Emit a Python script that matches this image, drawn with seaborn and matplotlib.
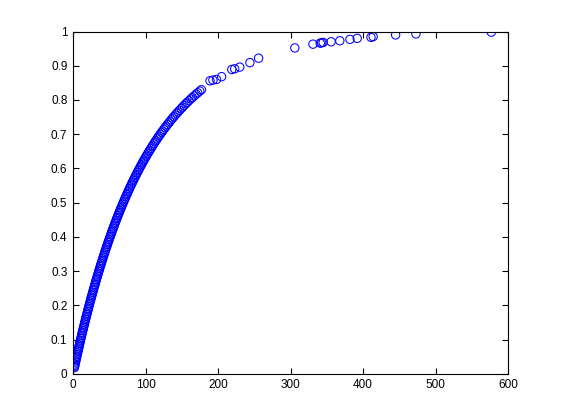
import matplotlib
matplotlib.use("Agg")
import matplotlib.pyplot as plt
import seaborn as sns
import pandas as pd

# values (x, CDF value)
x_vals = [
    1.82, 2.12, 2.53, 2.94, 3.46, 3.87, 4.40, 4.82, 5.24, 5.76, 6.30, 6.83, 7.26, 7.80, 8.23,
    8.78, 9.32, 9.76, 10.32, 10.87, 11.32, 11.88, 12.44, 12.90, 13.47, 14.04, 14.51, 15.08,
    15.66, 16.13, 16.72, 17.32, 17.80, 18.39, 19.00, 19.48, 20.09, 20.70, 21.20, 21.81, 22.44,
    22.94, 23.57, 24.21, 24.72, 25.37, 26.01, 26.53, 27.18, 27.84, 28.37, 29.04, 29.71, 30.25,
    30.93, 31.61, 32.16, 32.85, 33.55, 34.11, 34.82, 35.53, 36.10, 36.82, 37.55, 38.13, 38.87,
    39.61, 40.20, 40.95, 41.70, 42.31, 43.08, 43.86, 44.48, 45.26, 46.04, 46.68, 47.48, 48.29,
    48.94, 49.76, 50.59, 51.25, 52.09, 52.93, 53.62, 54.47, 55.34, 56.03, 56.92, 57.80, 58.52,
    59.42, 60.33, 61.07, 61.99, 62.93, 63.68, 64.63, 65.59, 66.36, 67.33, 68.32, 69.11, 70.12,
    71.13, 71.96, 72.98, 74.03, 74.87, 75.93, 77.00, 77.87, 78.97, 80.07, 80.97, 82.10, 83.25,
    84.17, 85.34, 86.51, 87.47, 88.68, 89.90, 90.89, 92.14, 93.40, 94.42, 95.72, 97.03, 98.10,
    99.43, 100.80, 101.90, 103.29, 104.69, 105.85, 107.31, 108.77, 109.97, 111.48, 113.02,
    114.26, 115.85, 117.45, 118.76, 120.40, 122.10, 123.45, 125.20, 126.95, 128.40, 130.20,
    132.06, 133.57, 135.49, 137.41, 139.04, 141.08, 143.13, 144.84, 146.97, 149.19, 150.97,
    153.27, 155.57, 157.53, 159.96, 162.48, 164.53, 167.15, 169.86, 172.05, 174.92, 177.20,
    189, 193, 198, 205, 219, 223, 230, 244, 256, 306, 331, 341, 343, 345, 356, 368, 382, 392,
    411, 414, 445, 473, 577,
]
y_vals = [
    0.018, 0.021, 0.025, 0.029, 0.034, 0.038, 0.043, 0.047, 0.051, 0.056, 0.061, 0.066, 0.070,
    0.075, 0.079, 0.084, 0.089, 0.093, 0.098, 0.103, 0.107, 0.112, 0.117, 0.121, 0.126, 0.131,
    0.135, 0.140, 0.145, 0.149, 0.154, 0.159, 0.163, 0.168, 0.173, 0.177, 0.182, 0.187, 0.191,
    0.196, 0.201, 0.205, 0.210, 0.215, 0.219, 0.224, 0.229, 0.233, 0.238, 0.243, 0.247, 0.252,
    0.257, 0.261, 0.266, 0.271, 0.275, 0.280, 0.285, 0.289, 0.294, 0.299, 0.303, 0.308, 0.313,
    0.317, 0.322, 0.327, 0.331, 0.336, 0.341, 0.345, 0.350, 0.355, 0.359, 0.364, 0.369, 0.373,
    0.378, 0.383, 0.387, 0.392, 0.397, 0.401, 0.406, 0.411, 0.415, 0.420, 0.425, 0.429, 0.434,
    0.439, 0.443, 0.448, 0.453, 0.457, 0.462, 0.467, 0.471, 0.476, 0.481, 0.485, 0.490, 0.495,
    0.499, 0.504, 0.509, 0.513, 0.518, 0.523, 0.527, 0.532, 0.537, 0.541, 0.546, 0.551, 0.555,
    0.560, 0.565, 0.569, 0.574, 0.579, 0.583, 0.588, 0.593, 0.597, 0.602, 0.607, 0.611, 0.616,
    0.621, 0.625, 0.630, 0.635, 0.639, 0.644, 0.649, 0.653, 0.658, 0.663, 0.667, 0.672, 0.677,
    0.681, 0.686, 0.691, 0.695, 0.700, 0.705, 0.709, 0.714, 0.719, 0.723, 0.728, 0.733, 0.737,
    0.742, 0.747, 0.751, 0.756, 0.761, 0.765, 0.770, 0.775, 0.779, 0.784, 0.789, 0.793, 0.798,
    0.803, 0.807, 0.812, 0.817, 0.821, 0.826, 0.830,
    0.856, 0.858, 0.860, 0.868, 0.889, 0.891, 0.896, 0.909, 0.922, 0.952, 0.963, 0.966, 0.967,
    0.968, 0.970, 0.973, 0.977, 0.980, 0.983, 0.985, 0.990, 0.993, 0.998,
]
x_ticks = [0, 100, 200, 300, 400, 500, 600]
y_ticks = [0, 0.1, 0.2, 0.3, 0.4, 0.5, 0.6, 0.7, 0.8, 0.9, 1]
y_tick_labels = ["0", "0.1", "0.2", "0.3", "0.4", "0.5", "0.6", "0.7", "0.8", "0.9", "1"]

df = pd.DataFrame({"x": x_vals, "y": y_vals})

sns.set_style("white")
plt.rcParams["font.family"] = ["Liberation Sans", "DejaVu Sans"]

fig = plt.figure(figsize=(5.61, 4.2), dpi=100, facecolor="white")
ax = fig.add_axes([73 / 561, 46.2 / 420, 435 / 561, 342.3 / 420])

sns.scatterplot(data=df, x="x", y="y", ax=ax, marker="o", s=36,
                facecolors="none", edgecolor=(0, 0, 1), linewidth=0.75, legend=False)

ax.set_xlim(0, 600)
ax.set_ylim(0, 1)
ax.set_xticks(x_ticks)
ax.set_xticklabels([str(t) for t in x_ticks])
ax.set_yticks(y_ticks)
ax.set_yticklabels(y_tick_labels)
ax.set_xlabel("")
ax.set_ylabel("")
for sp in ax.spines.values():
    sp.set_visible(True)
    sp.set_color("black")
    sp.set_linewidth(0.8)
ax.tick_params(direction="in", length=4, width=0.8, colors="black", labelsize=8.5,
               top=True, right=True, bottom=True, left=True, pad=4)

fig.savefig("out.png", dpi=100, facecolor="white")
